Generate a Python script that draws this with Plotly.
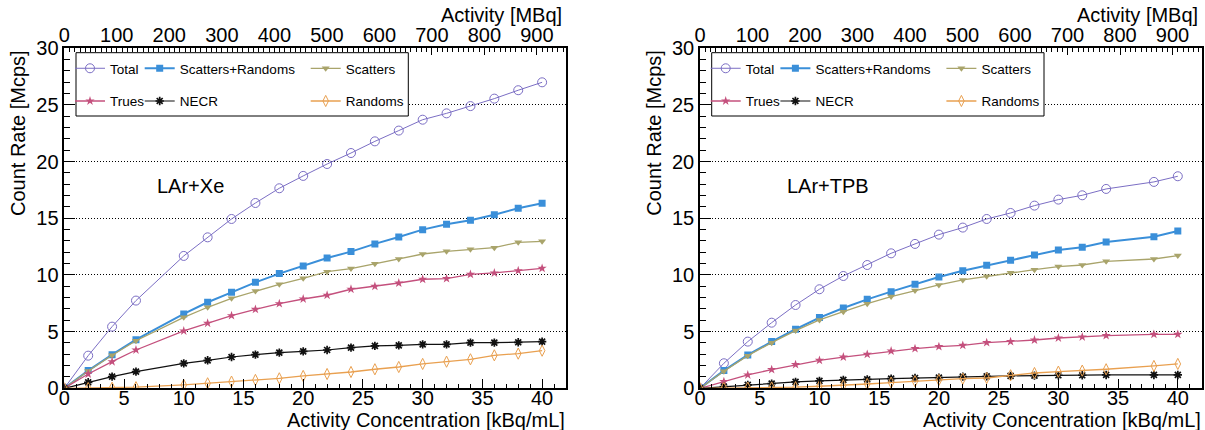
import plotly.graph_objects as go

W, H = 1205, 430

# ---------------- data ----------------
conc_xe = [0, 2, 4, 6, 10, 12, 14, 16, 18, 20, 22, 24, 26, 28, 30, 32, 34, 36, 38, 40]
total_xe = [0, 2.88, 5.44, 7.74, 11.68, 13.32, 14.94, 16.35, 17.65, 18.74, 19.79, 20.76, 21.79, 22.74, 23.70, 24.26, 24.90, 25.56, 26.30, 27.00]
sr_xe = [0, 1.56, 2.97, 4.29, 6.56, 7.59, 8.47, 9.35, 10.12, 10.79, 11.50, 12.06, 12.74, 13.35, 14.00, 14.47, 14.82, 15.32, 15.88, 16.32]
scat_xe = [0, 1.52, 2.92, 4.20, 6.26, 7.15, 7.94, 8.59, 9.18, 9.70, 10.29, 10.56, 11.00, 11.41, 11.85, 12.09, 12.26, 12.41, 12.88, 12.97]
trues_xe = [0, 1.26, 2.35, 3.38, 5.06, 5.74, 6.41, 6.97, 7.47, 7.88, 8.21, 8.74, 9.00, 9.29, 9.62, 9.68, 10.06, 10.18, 10.38, 10.59]
necr_xe = [0, 0.53, 1.03, 1.47, 2.20, 2.47, 2.76, 2.97, 3.15, 3.26, 3.38, 3.59, 3.74, 3.79, 3.88, 3.88, 4.03, 4.03, 4.06, 4.12]
rand_xe = [0, 0.02, 0.05, 0.10, 0.30, 0.44, 0.59, 0.74, 0.88, 1.09, 1.26, 1.44, 1.68, 1.88, 2.15, 2.35, 2.56, 2.91, 3.06, 3.32]

conc_tpb = [0, 2, 4, 6, 8, 10, 12, 14, 16, 18, 20, 22, 24, 26, 28, 30, 32, 34, 38, 40]
total_tpb = [0, 2.21, 4.12, 5.79, 7.35, 8.74, 9.91, 10.88, 11.91, 12.74, 13.56, 14.18, 14.94, 15.47, 16.12, 16.65, 17.03, 17.59, 18.21, 18.71]
sr_tpb = [0, 1.56, 2.94, 4.12, 5.21, 6.24, 7.09, 7.85, 8.53, 9.18, 9.82, 10.38, 10.85, 11.29, 11.76, 12.21, 12.44, 12.91, 13.38, 13.88]
scat_tpb = [0, 1.50, 2.88, 4.03, 5.09, 6.03, 6.76, 7.47, 8.09, 8.62, 9.12, 9.56, 9.88, 10.20, 10.47, 10.74, 10.88, 11.20, 11.41, 11.71]
trues_tpb = [0, 0.59, 1.18, 1.65, 2.09, 2.47, 2.76, 3.00, 3.29, 3.50, 3.68, 3.79, 4.03, 4.12, 4.26, 4.44, 4.53, 4.65, 4.76, 4.76]
necr_tpb = [0, 0.15, 0.30, 0.41, 0.56, 0.65, 0.74, 0.79, 0.85, 0.91, 0.94, 1.03, 1.06, 1.10, 1.12, 1.15, 1.15, 1.18, 1.18, 1.18]
rand_tpb = [0, 0.02, 0.05, 0.07, 0.10, 0.18, 0.26, 0.38, 0.50, 0.62, 0.74, 0.85, 0.91, 1.15, 1.35, 1.47, 1.56, 1.68, 1.97, 2.15]

series_names = ["Total", "Scatters+Randoms", "Scatters", "Trues", "NECR", "Randoms"]
panel_labels = ["LAr+Xe", "LAr+TPB"]
x_title = "Activity Concentration [kBq/mL]"
y_title = "Count Rate [Mcps]"
top_title = "Activity [MBq]"
MBQ_PER_KBQML = 22.75  # top-axis conversion

# ---------------- styles ----------------
FONT = "Liberation Sans, Arial, Helvetica, sans-serif"
styles = {
    "Total": dict(color="#7b6ec4", symbol="circle-open", size=9, lw=1.0, mlw=1.0),
    "Scatters+Randoms": dict(color="#3a8fd9", symbol="square", size=7, lw=2.0, mlw=0),
    "Scatters": dict(color="#a9a46b", symbol="triangle-down", size=7, lw=1.3, mlw=0),
    "Trues": dict(color="#c4507d", symbol="star", size=7, lw=1.3, mlw=0),
    "NECR": dict(color="#111111", symbol="asterisk-open", size=7, lw=1.2, mlw=1.7),
    "Randoms": dict(color="#e9a050", symbol="diamond-tall-open", size=8, lw=1.3, mlw=1.0),
}


def fx(px):
    return px / W


def fy(py):
    return 1 - py / H


panels = [
    dict(conc=conc_xe, data=[total_xe, sr_xe, scat_xe, trues_xe, necr_xe, rand_xe],
         x0=64.3, x1=566.0, xa="x", ya="y", xtop="x3", xlab="x5", label=panel_labels[0], lab_x=7.6),
    dict(conc=conc_tpb, data=[total_tpb, sr_tpb, scat_tpb, trues_tpb, necr_tpb, rand_tpb],
         x0=700.0, x1=1201.7, xa="x2", ya="y2", xtop="x4", xlab="x6", label=panel_labels[1], lab_x=7.1),
]
Y_TOP, Y_BOT = 48.3, 388.3
X_MAX = 42.0
Y_MAX = 30.0

fig = go.Figure()
shapes = []
annotations = []
legend_layouts = {}

col_marker_px = [90.0, 159.7, 325.7]
row_center_px = [68.3, 101.0]
legend_order = [(0, 0), (0, 1), (0, 2), (1, 0), (1, 1), (1, 2)]

leg_idx = 1
for pi, p in enumerate(panels):
    off = p["x0"] - 64.3
    for si, name in enumerate(series_names):
        st = styles[name]
        lname = "legend" if leg_idx == 1 else f"legend{leg_idx}"
        fig.add_trace(go.Scatter(
            x=p["conc"], y=p["data"][si], name=name, mode="lines+markers",
            xaxis=p["xa"], yaxis=p["ya"],
            line=dict(color=st["color"], width=st["lw"]),
            marker=dict(symbol=st["symbol"], size=st["size"], color=st["color"],
                        line=dict(color=st["color"], width=st["mlw"])),
            legend=lname, showlegend=True,
        ))
        r, c = legend_order[si]
        origin = col_marker_px[c] + off - 20
        top = row_center_px[r] - 15.3
        legend_layouts[lname] = dict(
            x=fx(origin), y=fy(top), xanchor="left", yanchor="top",
            orientation="v", bgcolor="rgba(0,0,0,0)", borderwidth=0,
            font=dict(family=FONT, size=13.5, color="black"),
        )
        leg_idx += 1
    # invisible helper traces for the top (MBq) axis and the bottom label axis
    fig.add_trace(go.Scatter(
        x=[c * MBQ_PER_KBQML for c in p["conc"]], y=p["data"][0], xaxis=p["xtop"], yaxis=p["ya"],
        mode="markers", marker=dict(opacity=0), showlegend=False, hoverinfo="skip",
    ))
    fig.add_trace(go.Scatter(
        x=p["conc"], y=p["data"][0], xaxis=p["xlab"], yaxis=p["ya"],
        mode="markers", marker=dict(opacity=0), showlegend=False, hoverinfo="skip",
    ))
    shapes.append(dict(type="rect", xref="paper", yref="paper",
                       x0=fx(76 + off), x1=fx(408.3 + off), y0=fy(116), y1=fy(52.7),
                       line=dict(color="black", width=1), fillcolor="white", layer="above"))
    annotations.append(dict(text=p["label"], xref=p["xa"], yref=p["ya"], x=p["lab_x"], y=17.85,
                            xanchor="left", yanchor="middle", showarrow=False,
                            font=dict(family=FONT, size=20, color="black")))
    annotations.append(dict(text=x_title, xref="paper", yref="paper", x=fx(p["x1"]), y=fy(419.5),
                            xanchor="right", yanchor="middle", showarrow=False, borderpad=0,
                            font=dict(family=FONT, size=20, color="black")))
    annotations.append(dict(text=top_title, xref="paper", yref="paper", x=fx(p["x1"] - 3), y=fy(15),
                            xanchor="right", yanchor="middle", showarrow=False, borderpad=0,
                            font=dict(family=FONT, size=20, color="black")))
    annotations.append(dict(text=y_title, xref="paper", yref="paper", x=fx(18 + off), y=fy(48),
                            xanchor="center", yanchor="top", textangle=-90, showarrow=False,
                            font=dict(family=FONT, size=20, color="black")))

tickfont = dict(family=FONT, size=20, color="black")


def xaxis_bottom(p):
    return dict(domain=[fx(p["x0"]), fx(p["x1"])], range=[0, X_MAX], anchor=p["ya"],
                showline=True, linecolor="black", linewidth=1.5, mirror=True,
                ticks="inside", dtick=5, tick0=0, ticklen=10, tickwidth=1, tickcolor="black",
                minor=dict(dtick=1, ticks="inside", ticklen=5, tickcolor="black", tickwidth=1, showgrid=False),
                showticklabels=False, showgrid=False, zeroline=False)


def xaxis_labels(p, over):
    return dict(overlaying=over, anchor="free", position=fy(Y_BOT - 4.5), side="bottom",
                range=[0, X_MAX], showline=False, ticks="", dtick=5, tick0=0,
                tickfont=tickfont, showgrid=False, zeroline=False, ticklabelstandoff=0)


def xaxis_top(p, over):
    return dict(overlaying=over, side="top", anchor=p["ya"], range=[0, X_MAX * MBQ_PER_KBQML],
                showline=False, ticks="inside", dtick=100, tick0=0, ticklen=7, tickwidth=1,
                tickcolor="black",
                minor=dict(dtick=10, ticks="inside", ticklen=4, tickcolor="black", tickwidth=1, showgrid=False),
                tickfont=tickfont, showgrid=False, zeroline=False, ticklabelstandoff=1)


def yaxis(p):
    return dict(domain=[fy(Y_BOT), fy(Y_TOP)], range=[0, Y_MAX], anchor=p["xa"],
                showline=True, linecolor="black", linewidth=1.5, mirror=True,
                ticks="inside", dtick=5, tick0=0, ticklen=11, tickwidth=1, tickcolor="black",
                minor=dict(dtick=1, ticks="inside", ticklen=6, tickcolor="black", tickwidth=1, showgrid=False),
                tickfont=tickfont, showgrid=True, gridcolor="black", gridwidth=1, griddash="1px,2px",
                zeroline=False, ticklabelstandoff=0)


layout = dict(
    width=W, height=H, margin=dict(l=0, r=0, t=0, b=0, autoexpand=False),
    paper_bgcolor="white", plot_bgcolor="white",
    font=dict(family=FONT, color="black"),
    xaxis=xaxis_bottom(panels[0]), yaxis=yaxis(panels[0]),
    xaxis2=xaxis_bottom(panels[1]), yaxis2=yaxis(panels[1]),
    xaxis3=xaxis_top(panels[0], "x"), xaxis4=xaxis_top(panels[1], "x2"),
    xaxis5=xaxis_labels(panels[0], "x"), xaxis6=xaxis_labels(panels[1], "x2"),
    shapes=shapes, annotations=annotations, showlegend=True,
)
layout.update(legend_layouts)
fig.update_layout(**layout)
fig.write_html("out.html")
